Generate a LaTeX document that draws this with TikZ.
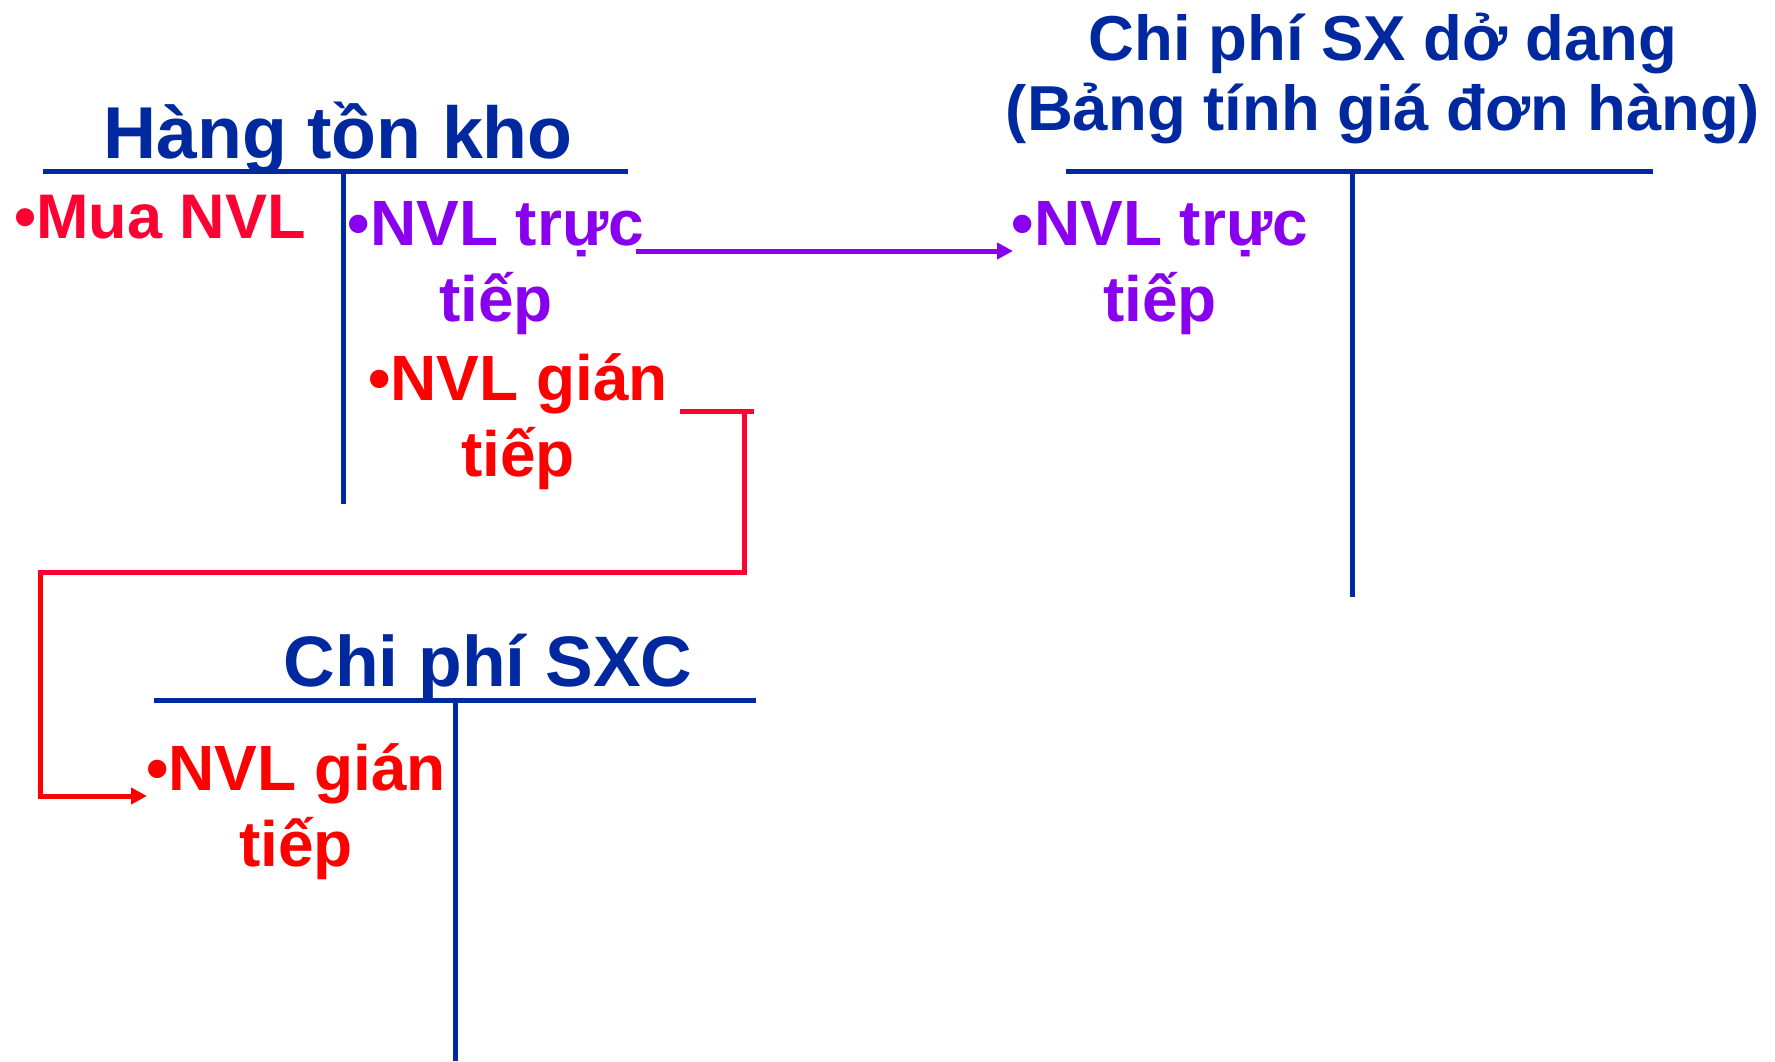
\documentclass[tikz,border=0pt]{standalone}
\usepackage{fontspec}
\setmainfont{Liberation Sans}
\usetikzlibrary{arrows.meta}
\definecolor{acctblue}{HTML}{0029A0}
\definecolor{crimson}{HTML}{FF0033}
\definecolor{violetline}{HTML}{8800EE}
\definecolor{purered}{HTML}{FF0000}
\begin{document}
\begin{tikzpicture}[x=1pt,y=-1pt,
  tline/.style={draw=acctblue, line width=5pt},
  acct/.style={text=acctblue, inner sep=0pt, align=center, anchor=base},
  entry/.style={font=\fontsize{64}{76}\selectfont\bfseries, inner sep=0pt, align=center, anchor=base},
  flow/.style={line width=5pt},
]
\useasboundingbox (0,0) rectangle (1775,1061);

% ---- T-account: Hang ton kho ----
\node[acct, font=\fontsize{73.5}{80}\selectfont\bfseries] (htkTitle) at (338,158) {Hàng tồn kho};
\coordinate (htkL) at (43,171);
\coordinate (htkR) at (628,171);
\coordinate (htkTop) at (343,171);
\coordinate (htkBot) at (343,504);
\draw[tline] (htkL) -- (htkR);
\draw[tline] (htkTop) -- (htkBot);
\node[entry, anchor=base west, text=crimson, font=\fontsize{63}{76}\selectfont\bfseries] (muaNVL) at (14,238) {•Mua NVL};
% multi-line nodes are placed by the baseline of their last line
\node[entry, text=violetline] (nvlTT1) at (496,321) {•NVL trực\\tiếp};
\node[entry, text=purered] (nvlGT1) at (518,476) {•NVL gián\\tiếp};

% ---- T-account: Chi phi SX do dang ----
\node[acct, font=\fontsize{63.5}{70}\selectfont\bfseries] (dodangTitle) at (1383,130) {Chi phí SX dở dang\\(Bảng tính giá đơn hàng)};
\coordinate (ddL) at (1066,171);
\coordinate (ddR) at (1653,171);
\coordinate (ddTop) at (1352,171);
\coordinate (ddBot) at (1352,597);
\draw[tline] (ddL) -- (ddR);
\draw[tline] (ddTop) -- (ddBot);
\node[entry, text=violetline] (nvlTT2) at (1160,321) {•NVL trực\\tiếp};

% ---- T-account: Chi phi SXC ----
\node[acct, font=\fontsize{71.5}{80}\selectfont\bfseries] (sxcTitle) at (488,686) {Chi phí SXC};
\coordinate (sxcL) at (154,700);
\coordinate (sxcR) at (756,700);
\coordinate (sxcTop) at (455,700);
\coordinate (sxcBot) at (455,1061);
\draw[tline] (sxcL) -- (sxcR);
\draw[tline] (sxcTop) -- (sxcBot);
\node[entry, text=purered] (nvlGT2) at (296,866) {•NVL gián\\tiếp};

% ---- transfer: direct materials ----
\coordinate (ttStart) at (636,251);
\coordinate (ttEnd) at (1013,251);
\draw[flow, violetline, -{Triangle[length=16pt,width=16pt]}] (ttStart) -- (ttEnd);

% ---- transfer: indirect materials ----
\coordinate (gtStubL) at (680,411);
\coordinate (gtStubR) at (754,411);
\coordinate (gtDrop) at (744,411);
\coordinate (gtTurn) at (744,572);
\coordinate (gtLeft) at (40,572);
\coordinate (gtLow) at (40,796);
\coordinate (gtEnd) at (147,796);
\draw[flow, crimson] (gtStubL) -- (gtStubR);
\draw[flow, crimson] (gtDrop) -- (gtTurn) -- ([xshift=-2.5pt]gtLeft);
\draw[flow, purered, -{Triangle[length=16pt,width=16pt]}] ([yshift=-2.5pt]gtLeft) -- (gtLow) -- (gtEnd);
\end{tikzpicture}
\end{document}
